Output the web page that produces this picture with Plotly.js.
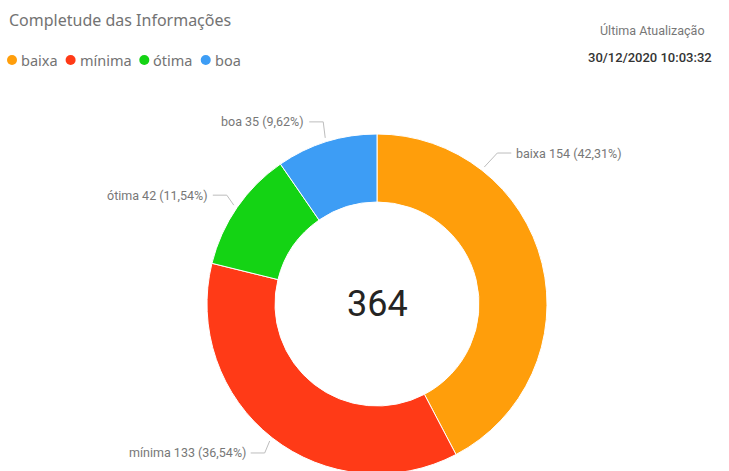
<!DOCTYPE html>
<html>
<head>
<meta charset="utf-8">
<script src="https://cdn.plot.ly/plotly-3.0.1.min.js"></script>
<style>
html,body{margin:0;padding:0;overflow:hidden;background:#fff;}
#chart{width:729px;height:480px;}
</style>
</head>
<body>
<div id="chart"></div>
<script>
// ---- data ----
const categories = ["baixa", "mínima", "ótima", "boa"];
const counts = [154, 133, 42, 35];
const colors = ["#FF9E0B", "#FF3A17", "#14D314", "#3D9DF5"];
const chartTitle = "Completude das Informações";
const updateLabel = "Última Atualização";
const updateStamp = "30/12/2020 10:03:32";

// ---- layout styling (pixels) ----
const W = 729, H = 480;
const cx = 377, cy = 304, R = 170;
// where along each slice the leader starts (fraction of slice), and elbow offsets
const anchorFrac = [0.25, 0.5, 0.5, 0.5];
const elbowDx = [13, -5, -7, -2];
const elbowDy = [-14, 12, -10, -16];
const legendFont = 'Noto Sans, Open Sans, sans-serif';
const legendSize = 14.5;

const total = counts.reduce((a, b) => a + b, 0);
function fmtPct(v) {
  return (v / total * 100).toFixed(2).replace('.', ',') + '%';
}

const shapes = [];
const annotations = [];
let cum = 0;
counts.forEach((v, i) => {
  const theta = (cum + anchorFrac[i] * v) / total * 2 * Math.PI;
  cum += v;
  const ax = cx + (R + 4) * Math.sin(theta);
  const ay = cy - (R + 4) * Math.cos(theta);
  const ex = ax + elbowDx[i];
  const ey = ay + elbowDy[i];
  const right = Math.sin(theta) >= 0;
  const hx = ex + (right ? 14 : -14);
  shapes.push({
    type: 'path', xref: 'x', yref: 'y',
    path: `M ${ax} ${ay} L ${ex} ${ey} L ${hx} ${ey}`,
    line: {color: '#BDBDBD', width: 1}
  });
  annotations.push({
    xref: 'x', yref: 'y', x: hx + (right ? 3 : -3), y: ey,
    xanchor: right ? 'left' : 'right', yanchor: 'middle',
    text: `${categories[i]} ${v} (${fmtPct(v)})`,
    showarrow: false,
    font: {family: 'Roboto, DejaVu Sans Condensed, sans-serif', size: 12.5, color: '#777777'}
  });
});

// centre total
annotations.push({
  xref: 'x', yref: 'y', x: cx, y: cy, xanchor: 'center', yanchor: 'middle',
  text: String(total), showarrow: false,
  font: {family: 'Roboto, DejaVu Sans, sans-serif', size: 36, color: '#252423'}
});

// title
annotations.push({
  xref: 'x', yref: 'y', x: 7, y: 20, xanchor: 'left', yanchor: 'middle',
  text: chartTitle, showarrow: false,
  font: {family: 'Noto Sans, Open Sans, sans-serif', size: 16, color: '#737373'}
});

// legend: circle markers + labels, spaced by measured text width
const ctx = document.createElement('canvas').getContext('2d');
ctx.font = `${legendSize}px "Noto Sans"`;
let lx = 7;
categories.forEach((c, i) => {
  shapes.push({
    type: 'circle', xref: 'x', yref: 'y',
    x0: lx, x1: lx + 10, y0: 55, y1: 65,
    fillcolor: colors[i], line: {width: 0}
  });
  annotations.push({
    xref: 'x', yref: 'y', x: lx + 12, y: 60, xanchor: 'left', yanchor: 'middle',
    text: c, showarrow: false,
    font: {family: legendFont, size: legendSize, color: '#737373'}
  });
  lx += 12 + ctx.measureText(c).width + 10;
});

// update info
annotations.push({
  xref: 'x', yref: 'y', x: 652, y: 30, xanchor: 'center', yanchor: 'middle',
  text: updateLabel, showarrow: false,
  font: {family: 'Roboto, sans-serif', size: 12.5, color: '#777777'}
});
annotations.push({
  xref: 'x', yref: 'y', x: 650, y: 57, xanchor: 'center', yanchor: 'middle',
  text: updateStamp, showarrow: false,
  font: {family: 'Roboto, sans-serif', size: 13, color: '#333333', weight: 500}
});

const trace = {
  type: 'pie',
  labels: categories,
  values: counts,
  sort: false,
  direction: 'clockwise',
  rotation: 0,
  hole: 0.6,
  marker: {colors: colors, line: {color: '#ffffff', width: 1}},
  textinfo: 'none',
  hoverinfo: 'none',
  showlegend: false,
  domain: {x: [(cx - R) / W, (cx + R) / W], y: [(H - cy - R) / H, (H - cy + R) / H]}
};

const layout = {
  width: W, height: H,
  margin: {l: 0, r: 0, t: 0, b: 0},
  paper_bgcolor: '#ffffff', plot_bgcolor: 'rgba(0,0,0,0)',
  xaxis: {range: [0, W], visible: false, fixedrange: true},
  yaxis: {range: [H, 0], visible: false, fixedrange: true},
  showlegend: false,
  shapes: shapes,
  annotations: annotations
};

Plotly.newPlot('chart', [trace], layout, {displayModeBar: false, staticPlot: true});
</script>
</body>
</html>
